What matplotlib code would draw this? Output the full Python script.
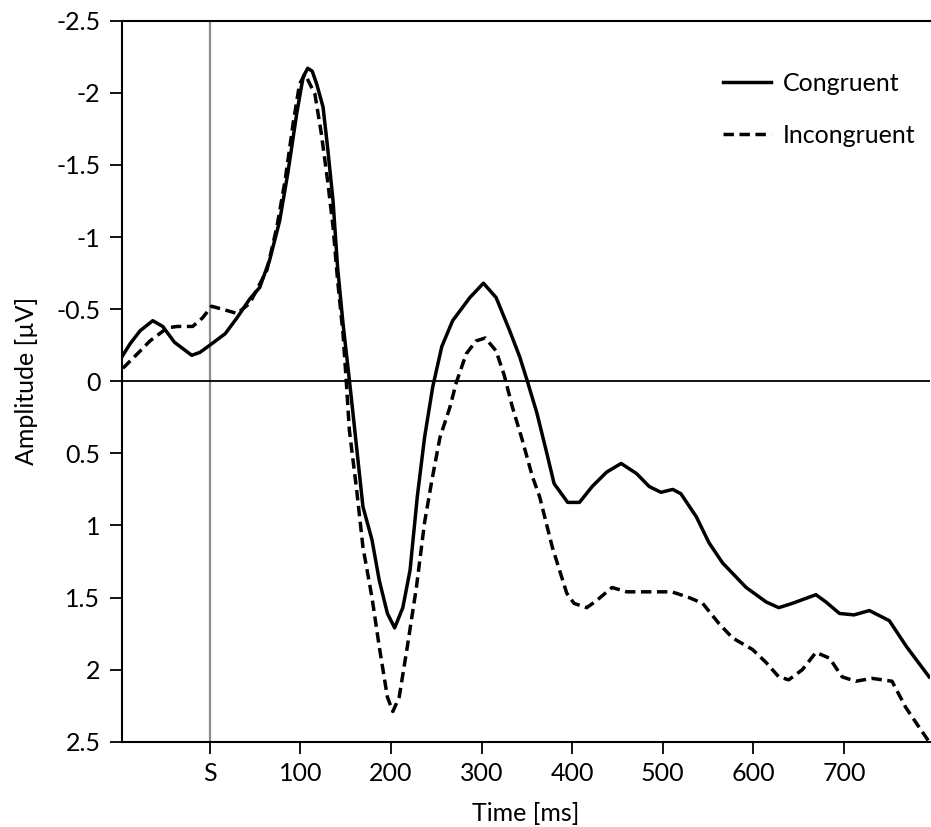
import matplotlib
matplotlib.use("Agg")
import matplotlib.pyplot as plt

plt.rcParams['font.family'] = ['Lato', 'DejaVu Sans']

# Congruent (solid)
cong_t = [-97, -88, -77, -63, -52, -39, -20, -11, 0, 17, 30, 44, 55, 66, 77, 86, 96, 103,
          108, 113, 118, 125, 130, 136, 141, 147, 154, 160, 169, 179, 187, 196, 204, 213,
          221, 229, 237, 246, 256, 268, 287, 302, 316, 331, 342, 350, 361, 372, 380, 395,
          408, 422, 438, 454, 471, 485, 498, 511, 520, 537, 551, 566, 592, 614, 628, 643,
          669, 680, 695, 711, 728, 750, 769, 794]
cong_v = [-0.17, -0.26, -0.35, -0.42, -0.38, -0.27, -0.18, -0.20, -0.25, -0.33, -0.44, -0.57,
          -0.65, -0.84, -1.11, -1.44, -1.86, -2.11, -2.17, -2.15, -2.06, -1.90, -1.62, -1.25,
          -0.79, -0.40, -0.01, 0.34, 0.87, 1.10, 1.38, 1.61, 1.71, 1.57, 1.31, 0.80, 0.39,
          0.04, -0.24, -0.42, -0.58, -0.68, -0.58, -0.35, -0.17, -0.01, 0.22, 0.50, 0.71,
          0.84, 0.84, 0.73, 0.63, 0.57, 0.64, 0.73, 0.77, 0.75, 0.78, 0.94, 1.12, 1.26, 1.43,
          1.53, 1.57, 1.54, 1.48, 1.53, 1.61, 1.62, 1.59, 1.66, 1.84, 2.05]

# Incongruent (dashed)
inc_t = [-96, -80, -66, -47, -36, -19, -8, 2, 19, 30, 44, 63, 74, 83, 92, 99, 105, 116, 123,
         130, 136, 141, 147, 151, 154, 162, 169, 179, 187, 196, 202, 209, 218, 228, 237, 245,
         254, 265, 272, 283, 294, 304, 316, 325, 334, 345, 356, 364, 378, 394, 402, 416, 427,
         444, 460, 482, 510, 529, 544, 562, 577, 599, 614, 628, 639, 654, 669, 684, 698, 713,
         731, 753, 768, 783, 794]
inc_v = [-0.09, -0.19, -0.28, -0.37, -0.38, -0.38, -0.44, -0.52, -0.49, -0.47, -0.54, -0.77,
         -1.07, -1.39, -1.79, -2.06, -2.13, -1.99, -1.72, -1.39, -1.07, -0.70, -0.33, 0.04,
         0.34, 0.75, 1.15, 1.50, 1.84, 2.19, 2.29, 2.19, 1.84, 1.43, 0.98, 0.69, 0.39, 0.18,
         0.01, -0.19, -0.28, -0.30, -0.21, -0.04, 0.18, 0.41, 0.66, 0.80, 1.15, 1.47, 1.54,
         1.57, 1.52, 1.43, 1.46, 1.46, 1.46, 1.50, 1.54, 1.68, 1.78, 1.86, 1.95, 2.05, 2.07,
         2.00, 1.88, 1.92, 2.05, 2.08, 2.06, 2.08, 2.26, 2.40, 2.50]

x_ticks = [0, 100, 200, 300, 400, 500, 600, 700]
x_labels = ['S', '100', '200', '300', '400', '500', '600', '700']
y_ticks = [-2.5, -2, -1.5, -1, -0.5, 0, 0.5, 1, 1.5, 2, 2.5]
y_labels = ['-2.5', '-2', '-1.5', '-1', '-0.5', '0', '0.5', '1', '1.5', '2', '2.5']

FS = 18

fig = plt.figure(figsize=(9.31, 8.27), dpi=100)
ax = fig.add_axes([0.131, 0.103, 0.868, 0.872])

ax.axvline(0, color='#8c8c8c', lw=1.6, zorder=1)
ax.axhline(0, color='black', lw=1.3, zorder=1)

ax.plot(cong_t, cong_v, color='black', lw=2.5, label='Congruent', zorder=3,
        solid_joinstyle='round')
ax.plot(inc_t, inc_v, color='black', lw=2.5, label='Incongruent', zorder=3,
        dashes=(3.0, 1.6))

ax.set_xlim(-97, 795)
ax.set_ylim(2.5, -2.5)

ax.set_xticks(x_ticks)
ax.set_xticklabels(x_labels)
ax.set_yticks(y_ticks)
ax.set_yticklabels(y_labels)

ax.tick_params(axis='both', direction='out', length=8.5, width=1.3, labelsize=FS, colors='black')
ax.tick_params(axis='y', pad=7)
ax.tick_params(axis='x', pad=6)

for s in ['left', 'bottom', 'top']:
    ax.spines[s].set_linewidth(1.5)
    ax.spines[s].set_color('black')
ax.spines['right'].set_visible(False)

ax.set_xlabel('Time [ms]', fontsize=FS, labelpad=12)
ax.set_ylabel('Amplitude [µV]', fontsize=FS, labelpad=13)

leg = ax.legend(loc='upper left', bbox_to_anchor=(723 / 931, 1 - 72 / 827),
                bbox_transform=fig.transFigure, frameon=False, fontsize=FS,
                handlelength=1.9, handletextpad=0.5, labelspacing=1.15,
                borderpad=0, borderaxespad=0)

fig.savefig('out.png', dpi=100)
